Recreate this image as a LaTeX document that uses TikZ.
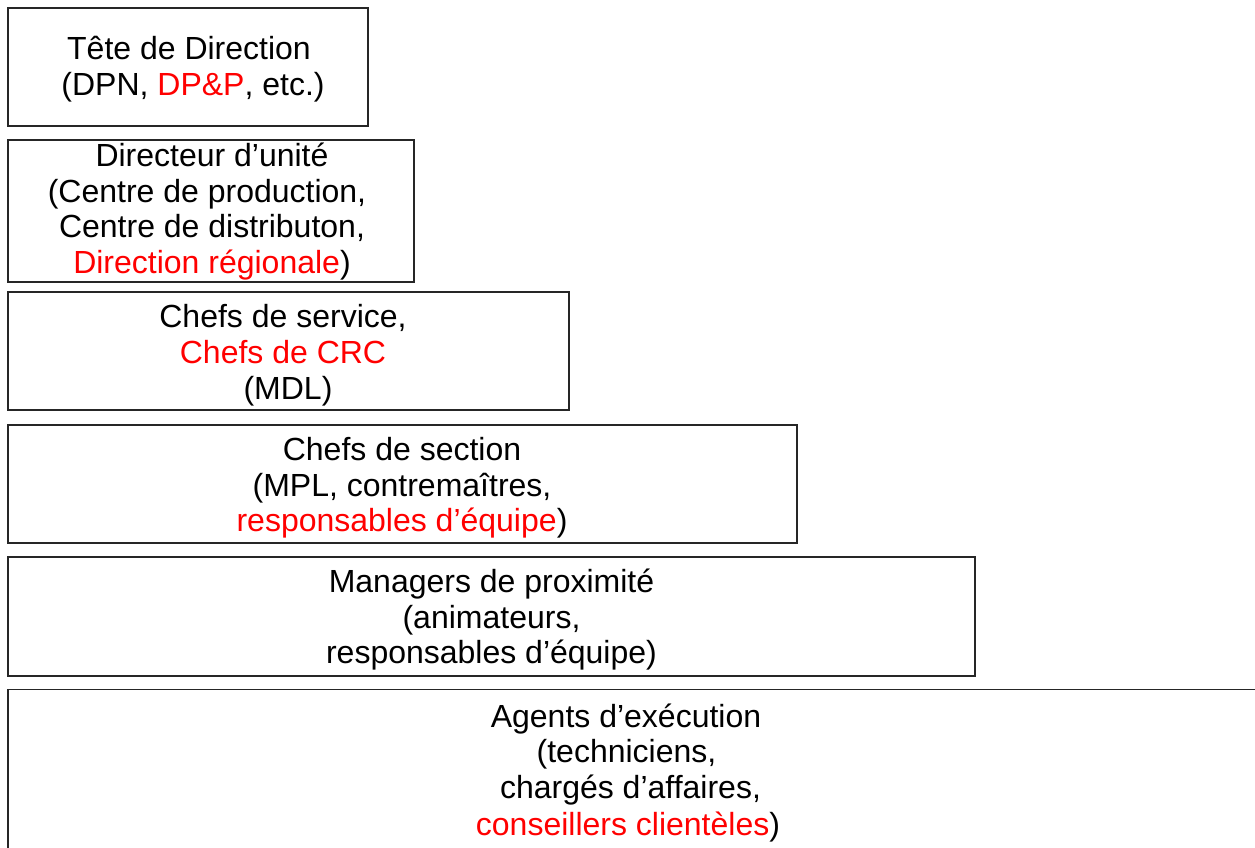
\documentclass[tikz,border=0pt]{standalone}
\usepackage{fontspec}
\setmainfont{Liberation Sans}
\begin{document}
\begin{tikzpicture}[x=1pt,y=-1pt,
  lvl/.style={draw=black!85,line width=1.8pt},
  txt/.style={anchor=base,inner sep=0pt,font=\fontsize{32}{36}\selectfont},
  hl/.style={red}]
\useasboundingbox (0,0) rectangle (1255,848);
\clip (0,0) rectangle (1255,848);
% boxes
\draw[lvl] (8,8) rectangle (368,126) coordinate (b1);
\draw[lvl] (8,140) rectangle (414,282) coordinate (b2);
\draw[lvl] (8,292) rectangle (569,410) coordinate (b3);
\draw[lvl] (8,425) rectangle (797,543) coordinate (b4);
\draw[lvl] (8,557) rectangle (975,676) coordinate (b5);
\draw[lvl] (8,689.5) rectangle (1275,870) coordinate (b6);
% box 1
\node[txt] (t11) at (189,60) {Tête de Direction};
\node[txt] (t12) at (193,96) {(DPN, \textcolor{red}{DP\&P}, etc.)};
% box 2
\node[txt] (t21) at (212,166) {Directeur d’unité};
\node[txt] (t22) at (207,202) {(Centre de production,};
\node[txt] (t23) at (212,237) {Centre de distributon,};
\node[txt] (t24) at (212,273) {\textcolor{red}{Direction régionale})};
% box 3
\node[txt] (t31) at (283,327) {Chefs de service,};
\node[txt] (t32) at (283,363) {\textcolor{red}{Chefs de CRC}};
\node[txt] (t33) at (288,399) {(MDL)};
% box 4
\node[txt] (t41) at (402,460) {Chefs de section};
\node[txt] (t42) at (402,496) {(MPL, contremaîtres,};
\node[txt] (t43) at (402,531) {\textcolor{red}{responsables d’équipe})};
% box 5
\node[txt] (t51) at (491.5,592) {Managers de proximité};
\node[txt] (t52) at (491.5,628) {(animateurs,};
\node[txt] (t53) at (491.5,663) {responsables d’équipe)};
% box 6
\node[txt] (t61) at (626,727) {Agents d’exécution};
\node[txt] (t62) at (626.5,762) {(techniciens,};
\node[txt] (t63) at (630.5,798) {chargés d’affaires,};
\node[txt] (t64) at (628,835) {\textcolor{red}{conseillers clientèles})};
\end{tikzpicture}
\end{document}
